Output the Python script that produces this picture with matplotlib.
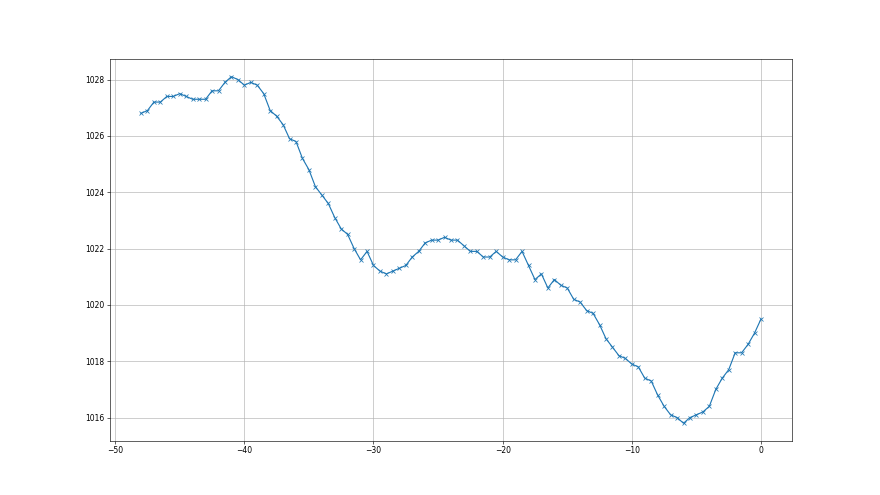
import numpy as np
import matplotlib
matplotlib.use("Agg")
import matplotlib.pyplot as plt

x = np.arange(-48, 0.01, 0.5)
pressure = [
    1026.8, 1026.9, 1027.2, 1027.2, 1027.4, 1027.4, 1027.5, 1027.4, 1027.3, 1027.3,
    1027.3, 1027.6, 1027.6, 1027.9, 1028.1, 1028.0, 1027.8, 1027.9, 1027.8, 1027.5,
    1026.9, 1026.7, 1026.4, 1025.9, 1025.8, 1025.2, 1024.8, 1024.2, 1023.9, 1023.6,
    1023.1, 1022.7, 1022.5, 1022.0, 1021.6, 1021.9, 1021.4, 1021.2, 1021.1, 1021.2,
    1021.3, 1021.4, 1021.7, 1021.9, 1022.2, 1022.3, 1022.3, 1022.4, 1022.3, 1022.3,
    1022.1, 1021.9, 1021.9, 1021.7, 1021.7, 1021.9, 1021.7, 1021.6, 1021.6, 1021.9,
    1021.4, 1020.9, 1021.1, 1020.6, 1020.9, 1020.7, 1020.6, 1020.2, 1020.1, 1019.8,
    1019.7, 1019.3, 1018.8, 1018.5, 1018.2, 1018.1, 1017.9, 1017.8, 1017.4, 1017.3,
    1016.8, 1016.4, 1016.1, 1016.0, 1015.8, 1016.0, 1016.1, 1016.2, 1016.4, 1017.0,
    1017.4, 1017.7, 1018.3, 1018.3, 1018.6, 1019.0, 1019.5,
]

fig, ax = plt.subplots(figsize=(16, 9), dpi=55)
ax.plot(x, pressure, marker="x", color="#1f77b4")
ax.grid(True)
fig.savefig("out.png", dpi=55)
